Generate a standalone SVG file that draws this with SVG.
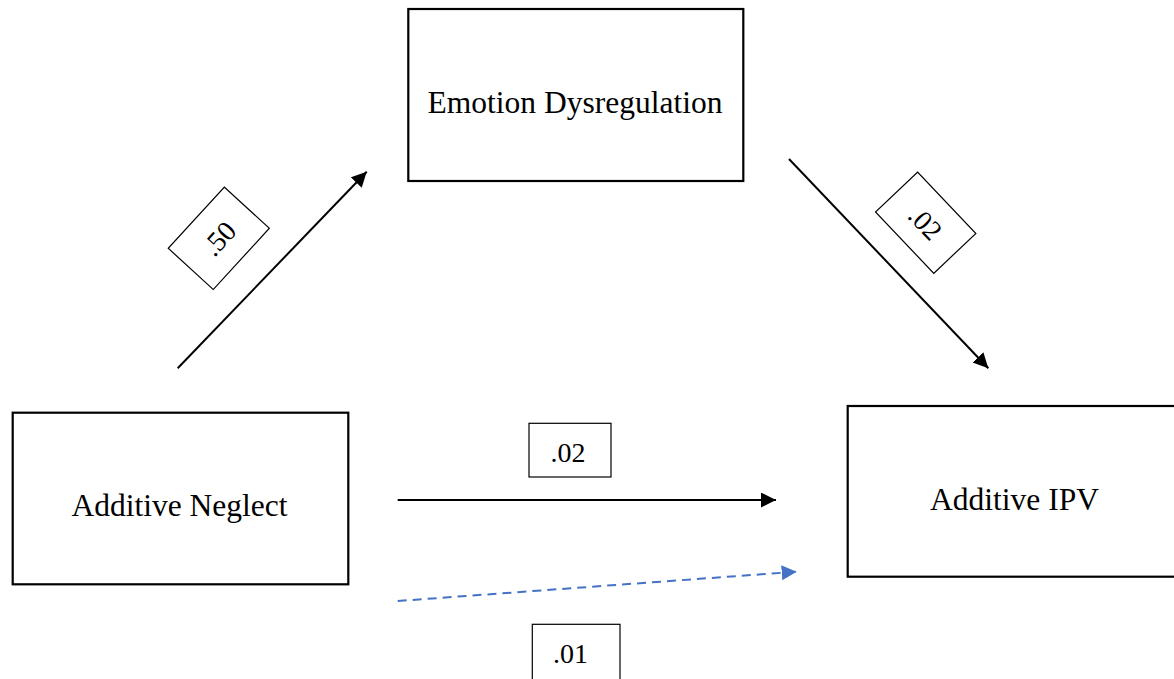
<svg xmlns="http://www.w3.org/2000/svg" width="1174" height="679" viewBox="0 0 1174 679">
<style>
.box{fill:#fff;stroke:#000;stroke-width:2.2}
.lbl{fill:#fff;stroke:#000;stroke-width:1.2}
.t{font-family:"Liberation Serif","Times New Roman",serif;font-size:31.5px;fill:#000;text-anchor:middle}
.s{font-family:"Liberation Serif","Times New Roman",serif;font-size:28px;fill:#000;text-anchor:middle}
.c{stroke:#000;stroke-width:2;fill:none}
.d{stroke:#4472C4;stroke-width:2;fill:none;stroke-dasharray:9 6}
</style>
<defs>
<marker id="ah" markerUnits="userSpaceOnUse" markerWidth="16" markerHeight="16" refX="15" refY="7.5" orient="auto">
<path d="M0,0 L15,7.5 L0,15 z" fill="#000"/>
</marker>
<marker id="ahb" markerUnits="userSpaceOnUse" markerWidth="16" markerHeight="16" refX="15" refY="7.5" orient="auto">
<path d="M0,0 L15,7.5 L0,15 z" fill="#4472C4"/>
</marker>
</defs>
<rect width="1174" height="679" fill="#fff"/>
<g id="connectors">
<line class="c" x1="177.7" y1="368.3" x2="366.7" y2="171.7" marker-end="url(#ah)"/>
<line class="c" x1="789" y1="159" x2="988.3" y2="368.3" marker-end="url(#ah)"/>
<line class="c" x1="397.7" y1="500" x2="776" y2="500" marker-end="url(#ah)"/>
<line class="d" x1="397.7" y1="601" x2="796.7" y2="571.7" marker-end="url(#ahb)"/>
</g>
<g id="node-emotion">
<rect class="box" x="408.3" y="9" width="335" height="172"/>
<text class="t" x="575" y="112.7">Emotion Dysregulation</text>
</g>
<g id="node-neglect">
<rect class="box" x="12.7" y="412.7" width="335.6" height="171.6"/>
<text class="t" x="179.5" y="516">Additive Neglect</text>
</g>
<g id="node-ipv">
<rect class="box" x="847.7" y="406" width="336" height="170.7"/>
<text class="t" x="1014.5" y="510">Additive IPV</text>
</g>
<g id="label-a" transform="translate(218.8,238.3) rotate(-47.5)">
<rect class="lbl" x="-41.5" y="-30.5" width="83" height="61"/>
<text class="s" x="0" y="10">.50</text>
</g>
<g id="label-b" transform="translate(925.7,222.7) rotate(46.5)">
<rect class="lbl" x="-42.3" y="-29" width="84.6" height="58"/>
<text class="s" x="0" y="10">.02</text>
</g>
<g id="label-c">
<rect class="lbl" x="529" y="423.3" width="82" height="53.7"/>
<text class="s" x="568" y="462">.02</text>
</g>
<g id="label-d">
<rect class="lbl" x="532.3" y="624.3" width="87.7" height="60"/>
<text class="s" x="570.5" y="662.7">.01</text>
</g>
</svg>
